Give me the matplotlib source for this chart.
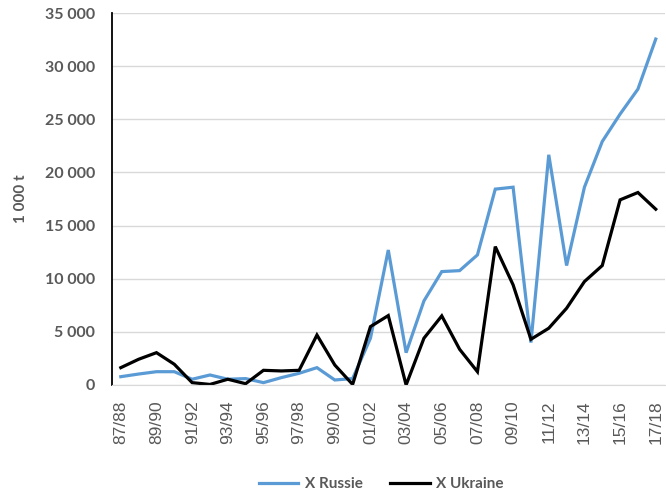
import matplotlib
matplotlib.use("Agg")
import matplotlib.pyplot as plt
from matplotlib.ticker import FuncFormatter, MultipleLocator

seasons = ["87/88", "88/89", "89/90", "90/91", "91/92", "92/93", "93/94", "94/95",
           "95/96", "96/97", "97/98", "98/99", "99/00", "00/01", "01/02", "02/03",
           "03/04", "04/05", "05/06", "06/07", "07/08", "08/09", "09/10", "10/11",
           "11/12", "12/13", "13/14", "14/15", "15/16", "16/17", "17/18"]

x_russie = [780, 1030, 1250, 1250, 540, 940, 540, 600,
            220, 690, 1100, 1630, 470, 600, 4400, 12700,
            3040, 7910, 10670, 10760, 12240, 18430, 18610, 3990,
            21660, 11240, 18610, 22910, 25490, 27840, 32550]

x_ukraine = [1630, 2420, 3040, 1950, 220, 50, 540, 120,
             1380, 1320, 1380, 4700, 1880, 50, 5490, 6530,
             0, 4400, 6500, 3360, 1250, 13020, 9420, 4300,
             5340, 7220, 9730, 11240, 17420, 18110, 16540]

plt.rcParams['font.family'] = ['Lato', 'DejaVu Sans']
gray = "#595959"

fig = plt.figure(figsize=(6.66, 4.97), dpi=100)
ax = fig.add_axes([0.168, 0.2254, 0.830, 0.7484])

idx = list(range(len(seasons)))
ax.plot(idx, x_russie, color="#5B9BD5", lw=2.3, label="X Russie", solid_joinstyle="miter")
ax.plot(idx, x_ukraine, color="black", lw=2.3, label="X Ukraine", solid_joinstyle="miter")

ax.set_xlim(-0.5, len(seasons) - 0.5)
ax.set_ylim(0, 35000)
ax.yaxis.set_major_locator(MultipleLocator(5000))
ax.yaxis.set_major_formatter(FuncFormatter(lambda v, p: f"{int(v):,}".replace(",", " ")))
ax.grid(axis="y", color="#D9D9D9", lw=1)
ax.set_axisbelow(True)

ax.set_xticks(idx[::2])
ax.set_xticklabels(seasons[::2], rotation=90, fontsize=12.5, color=gray,
                   family=['Liberation Sans', 'DejaVu Sans'])
ax.tick_params(axis="x", length=0, pad=11)
ax.tick_params(axis="y", length=0, pad=12, labelsize=11.5, labelcolor=gray)
for lab in ax.get_yticklabels():
    lab.set_fontweight("bold")

for s in ["top", "right"]:
    ax.spines[s].set_visible(False)
ax.spines["bottom"].set_color("#D9D9D9")
ax.spines["left"].set_color("black")
ax.spines["left"].set_linewidth(1.3)

ax.set_ylabel("1 000 t", fontsize=11, fontweight="bold", color=gray, labelpad=12)

leg = fig.legend(loc="center", bbox_to_anchor=(0.572, 0.026), ncol=2, frameon=False,
                 fontsize=11, handlelength=2.6, columnspacing=1.8, handletextpad=0.4)
for t in leg.get_texts():
    t.set_color(gray)
    t.set_fontweight("bold")

fig.savefig("out.png", dpi=100)
